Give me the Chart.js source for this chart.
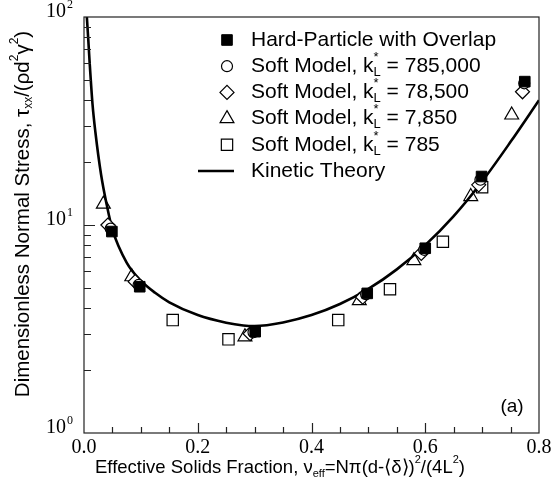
<!DOCTYPE html>
<html>
<head>
<meta charset="utf-8">
<script src="https://cdn.jsdelivr.net/npm/chart.js@4/dist/chart.umd.min.js"></script>
<style>
  body { margin: 0; background: #fff; }
</style>
</head>
<body>
<canvas id="myChart" width="553" height="495"></canvas>
<script>
// values
var hardX = [0.049, 0.098, 0.301, 0.498, 0.600, 0.699, 0.775];
var hardY = [9.3, 5.05, 3.07, 4.69, 7.73, 17.1, 48.9];

var soft785kX = [0.047, 0.096, 0.298, 0.496, 0.598, 0.697, 0.774];
var soft785kY = [9.6, 5.15, 3.05, 4.65, 7.6, 16.5, 48.0];

var soft78kX = [0.042, 0.090, 0.292, 0.490, 0.593, 0.694, 0.771];
var soft78kY = [10.0, 5.34, 3.0, 4.5, 7.3, 15.6, 43.7];

var soft7kX = [0.034, 0.084, 0.283, 0.484, 0.580, 0.680, 0.752];
var soft7kY = [12.6, 5.64, 2.9, 4.33, 6.74, 13.7, 33.8];

var soft785X = [0.156, 0.254, 0.447, 0.538, 0.631, 0.700];
var soft785Y = [3.49, 2.82, 3.49, 4.91, 8.31, 15.2];

var kineticX = [0.005, 0.0075, 0.01, 0.015, 0.02, 0.03, 0.04, 0.05, 0.075, 0.1, 0.125, 0.15, 0.2, 0.25, 0.28, 0.3, 0.35, 0.4, 0.45, 0.5, 0.55, 0.6, 0.65, 0.7, 0.75, 0.8];
var kineticY = [100, 78, 60, 38, 28, 17.5, 12.5, 9.5, 6.6, 5.4, 4.72, 4.25, 3.69, 3.39, 3.29, 3.27, 3.40, 3.69, 4.17, 4.93, 6.12, 8.0, 11.04, 16.2, 25.1, 39.8];

var xMajor = [0.0, 0.2, 0.4, 0.6, 0.8];
var xTickLabels = ['0.0', '0.2', '0.4', '0.6', '0.8'];
var yMajor = [1, 10, 100];
var yExponents = ['0', '1', '2'];

var legendLabels = [
    [{t: 'Hard-Particle with Overlap'}],
    [{t: 'Soft Model, k'}, {sup: '*', sub: 'L'}, {t: ' = 785,000'}],
    [{t: 'Soft Model, k'}, {sup: '*', sub: 'L'}, {t: ' = 78,500'}],
    [{t: 'Soft Model, k'}, {sup: '*', sub: 'L'}, {t: ' = 7,850'}],
    [{t: 'Soft Model, k'}, {sup: '*', sub: 'L'}, {t: ' = 785'}],
    [{t: 'Kinetic Theory'}]
];

function pts(xs, ys) {
    return xs.map(function (x, i) { return {x: x, y: ys[i]}; });
}

var SANS = '"Liberation Sans", Arial, sans-serif';
var SERIF = '"Liberation Serif", "Times New Roman", serif';

// draws text made of plain / sub / sup pieces, returns width
function drawRich(ctx, segs, x, y, size, doDraw) {
    var cx = x;
    segs.forEach(function (s) {
        if (s.t !== undefined) {
            ctx.font = size + 'px ' + SANS;
            if (doDraw) ctx.fillText(s.t, cx, y);
            cx += ctx.measureText(s.t).width;
        } else {
            var small = Math.round(size * 0.6);
            ctx.font = small + 'px ' + SANS;
            var w = 0;
            if (s.sup) {
                if (doDraw) ctx.fillText(s.sup, cx, y - size * 0.42);
                w = Math.max(w, ctx.measureText(s.sup).width);
            }
            if (s.sub) {
                if (doDraw) ctx.fillText(s.sub, cx, y + size * 0.3);
                w = Math.max(w, ctx.measureText(s.sub).width);
            }
            cx += w;
        }
    });
    return cx - x;
}

var decor = {
    id: 'decor',
    afterDraw: function (chart) {
        var ctx = chart.ctx;
        var a = chart.chartArea;
        var xs = chart.scales.x, ys = chart.scales.y;
        ctx.save();

        // frame
        ctx.strokeStyle = '#222';
        ctx.lineWidth = 1.2;
        ctx.strokeRect(a.left, a.top, a.right - a.left, a.bottom - a.top);

        // x ticks (inward)
        ctx.beginPath();
        for (var i = 1; i < 16; i++) {
            var v = i * 0.05;
            var px = Math.round(xs.getPixelForValue(v)) + 0.5;
            var len = (i % 4 === 0) ? 10 : 6;
            ctx.moveTo(px, a.bottom);
            ctx.lineTo(px, a.bottom - len);
        }
        // y ticks (inward)
        [1, 10].forEach(function (dec) {
            for (var m = 2; m <= 10; m++) {
                var val = dec * m;
                if (val >= 100) continue;
                var py = Math.round(ys.getPixelForValue(val)) + 0.5;
                var l = (m === 10) ? 11 : 7;
                ctx.moveTo(a.left, py);
                ctx.lineTo(a.left + l, py);
            }
        });
        ctx.stroke();

        // x tick labels
        ctx.fillStyle = '#000';
        ctx.font = '20px ' + SERIF;
        ctx.textAlign = 'center';
        ctx.textBaseline = 'middle';
        xMajor.forEach(function (v, i) {
            ctx.fillText(xTickLabels[i], xs.getPixelForValue(v), a.bottom + 15);
        });

        // y tick labels 10^n
        ctx.textAlign = 'left';
        yMajor.forEach(function (v, i) {
            var py = ys.getPixelForValue(v) - 5;
            ctx.font = '20px ' + SERIF;
            var w = ctx.measureText('10').width;
            var x0 = 46;
            ctx.fillText('10', x0, py);
            ctx.font = '12px ' + SERIF;
            ctx.fillText(yExponents[i], x0 + w + 1, py - 7);
        });

        // x axis title
        ctx.textBaseline = 'middle';
        var xt = [{t: 'Effective Solids Fraction, \u03bd'}, {sub: 'eff'}, {t: '=N\u03c0(d-\u27e8\u03b4\u27e9)'}, {sup: '2'}, {t: '/(4L'}, {sup: '2'}, {t: ')'}];
        var tw = drawRich(ctx, xt, 0, 0, 18.5, false);
        drawRich(ctx, xt, 280 - tw / 2, 468, 18.5, true);

        // y axis title
        ctx.save();
        ctx.translate(23, 214);
        ctx.rotate(-Math.PI / 2);
        var yt = [{t: 'Dimensionless Normal Stress, \u03c4'}, {sub: 'xx'}, {t: '/(\u03c1d'}, {sup: '2'}, {t: '\u03b3'}, {sup: '2'}, {t: ')'}];
        var yw = drawRich(ctx, yt, 0, 0, 20.5, false);
        drawRich(ctx, yt, -yw / 2, 0, 20.5, true);
        ctx.restore();

        // legend
        var styles = chart.data.datasets;
        for (var k = 0; k < legendLabels.length; k++) {
            var ly = 40 + k * 26.2;
            var ds = styles[k];
            if (ds.type === 'line') {
                ctx.strokeStyle = '#000';
                ctx.lineWidth = 2.6;
                ctx.beginPath();
                ctx.moveTo(198, ly);
                ctx.lineTo(234, ly);
                ctx.stroke();
            } else {
                ctx.strokeStyle = '#000';
                ctx.fillStyle = ds.pointBackgroundColor;
                ctx.lineWidth = ds.pointBorderWidth;
                Chart.helpers.drawPoint(ctx, {pointStyle: ds.pointStyle, radius: ds.pointRadius, rotation: 0, borderWidth: ds.pointBorderWidth}, 227, ly);
            }
            ctx.fillStyle = '#000';
            drawRich(ctx, legendLabels[k], 251, ly, 21, true);
        }

        // panel label
        ctx.font = '19px ' + SANS;
        ctx.textAlign = 'center';
        ctx.fillText('(a)', 512, 407);
        ctx.restore();
    }
};

var ctx = document.getElementById('myChart').getContext('2d');

var myChart = new Chart(ctx, {
    type: 'scatter',
    data: {
        datasets: [{
            label: 'Hard-Particle with Overlap',
            data: pts(hardX, hardY),
            pointStyle: 'rect',
            pointRadius: 7.5,
            pointBackgroundColor: '#000',
            pointBorderColor: '#000',
            pointBorderWidth: 1
        }, {
            label: 'Soft Model, k = 785,000',
            data: pts(soft785kX, soft785kY),
            pointStyle: 'circle',
            pointRadius: 5.5,
            pointBackgroundColor: '#fff',
            pointBorderColor: '#000',
            pointBorderWidth: 1.2
        }, {
            label: 'Soft Model, k = 78,500',
            data: pts(soft78kX, soft78kY),
            pointStyle: 'rectRot',
            pointRadius: 7,
            pointBackgroundColor: '#fff',
            pointBorderColor: '#000',
            pointBorderWidth: 1.2
        }, {
            label: 'Soft Model, k = 7,850',
            data: pts(soft7kX, soft7kY),
            pointStyle: 'triangle',
            pointRadius: 8,
            pointBackgroundColor: 'rgba(255,255,255,0)',
            pointBorderColor: '#000',
            pointBorderWidth: 1.2
        }, {
            label: 'Soft Model, k = 785',
            data: pts(soft785X, soft785Y),
            pointStyle: 'rect',
            pointRadius: 8,
            pointBackgroundColor: '#fff',
            pointBorderColor: '#000',
            pointBorderWidth: 1.2
        }, {
            type: 'line',
            label: 'Kinetic Theory',
            data: pts(kineticX, kineticY),
            borderColor: '#000',
            borderWidth: 2.6,
            pointRadius: 0,
            fill: false,
            cubicInterpolationMode: 'monotone'
        }]
    },
    options: {
        responsive: false,
        animation: false,
        layout: {
            padding: {top: 17, right: 14, left: 0, bottom: 0}
        },
        plugins: {
            legend: { display: false },
            tooltip: { enabled: false }
        },
        scales: {
            x: {
                type: 'linear',
                min: 0,
                max: 0.8,
                grid: { display: false },
                border: { display: false },
                ticks: { display: false },
                afterFit: function (s) { s.height = 62; }
            },
            y: {
                type: 'logarithmic',
                min: 1,
                max: 100,
                grid: { display: false },
                border: { display: false },
                ticks: { display: false },
                afterFit: function (s) { s.width = 84; }
            }
        }
    },
    plugins: [decor]
});
</script>
</body>
</html>
